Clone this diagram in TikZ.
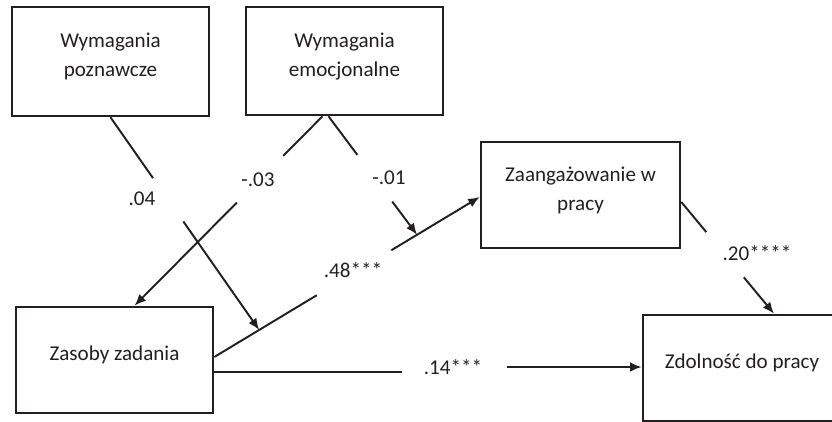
\documentclass[tikz,border=0pt]{standalone}
\usepackage{fontspec}
\setmainfont{Carlito}
\usetikzlibrary{arrows.meta, calc}
\definecolor{grafit}{HTML}{231F20}
\colorlet{colLinia}{grafit}
\colorlet{colTekst}{grafit}
\tikzset{
  ramkaBaza/.style={
    draw=colLinia, line width=1.5pt, inner sep=0pt,
    minimum width=3.94cm, minimum height=2.12cm,
    align=center, font=\fontsize{12}{16.4}\selectfont, text=colTekst,
    text depth=7.7pt
  },
  ramka/.style={ramkaBaza, text height=8.5pt},
  ramkaDwa/.style={ramkaBaza, text height=24.9pt},
  linia/.style={line width=1.1pt, colLinia},
  strzalka/.style={-{Latex[length=2.3mm, width=1.9mm]}, line width=1.1pt, colLinia},
  etykieta/.style={font=\fontsize{12}{14}\selectfont, text=colTekst, inner sep=1pt},
}

\begin{document}
\begin{tikzpicture}[x=0.02cm, y=-0.02cm]
    \useasboundingbox (0,0) rectangle (832,422);
    \clip (0,0) rectangle (832,422);
    \node[ramkaDwa, minimum height=2.18cm] (wp) at (110.5,61.5) {Wymagania\\poznawcze};
    \node[ramkaDwa, minimum height=2.16cm] (we) at (344.5,61) {Wymagania\\emocjonalne};
    \node[ramkaDwa, minimum width=3.98cm] (zp) at (580.5,195) {Zaangażowanie w\\pracy};
    \node[ramka] (zz) at (114.5,360) {Zasoby zadania};
    \node[ramka, minimum width=3.96cm] (zd) at (742,368) {Zdolność do pracy};
    % wspolczynniki
    \node[etykieta] (l04) at (142,199) {.04};
    \node[etykieta] (l03) at (258,180) {-.03};
    \node[etykieta] (l01) at (389,178) {-.01};
    \node[etykieta] (l48) at (353,270) {.48***};
    \node[etykieta] (l14) at (453,367) {.14***};
    \node[etykieta] (l20) at (757,253) {.20****};
    % punkty zaczepienia
    \coordinate (weL) at ($(we.south)+(-22,0)$);
    \coordinate (weR) at ($(we.south)+(-16,0)$);
    \coordinate (zzN) at ($(zz.north)+(20,0)$);
    \coordinate (zzE) at ($(zz.east)+(0,-3)$);
    \coordinate (zpW) at ($(zp.west)+(0,2)$);
    \coordinate (zpE) at ($(zp.east)+(0,7)$);
    \coordinate (zdN) at ($(zd.north)+(32,0)$);
    \path (zzE) -- (zpW) coordinate[pos=0.386] (g48a) coordinate[pos=0.667] (g48b)
        coordinate[pos=0.169] (m04) coordinate[pos=0.764] (m01);
    \path (wp.south) -- (m04) coordinate[pos=0.286] (g04a) coordinate[pos=0.49] (g04b);
    \path (weL) -- (zzN) coordinate[pos=0.209] (g03a) coordinate[pos=0.455] (g03b);
    \path (weR) -- (m01) coordinate[pos=0.326] (g01a) coordinate[pos=0.72] (g01b);
    \path (zpE) -- (zdN) coordinate[pos=0.27] (g20a) coordinate[pos=0.674] (g20b);
    \coordinate (g14a) at (402,372);
    \coordinate (g14b) at (507,367);
    % sciezki
    \draw[linia] (wp.south) -- (g04a);
    \draw[strzalka] (g04b) -- (m04);
    \draw[linia] (weL) -- (g03a);
    \draw[strzalka] (g03b) -- (zzN);
    \draw[linia] (weR) -- (g01a);
    \draw[strzalka] (g01b) -- (m01);
    \draw[linia] (zzE) -- (g48a);
    \draw[strzalka] (g48b) -- (zpW);
    \draw[linia] (zpE) -- (g20a);
    \draw[strzalka] (g20b) -- (zdN);
    \draw[linia] (zz.east |- g14a) -- (g14a);
    \draw[strzalka] (g14b) -- (g14b -| zd.west);
\end{tikzpicture}
\end{document}
